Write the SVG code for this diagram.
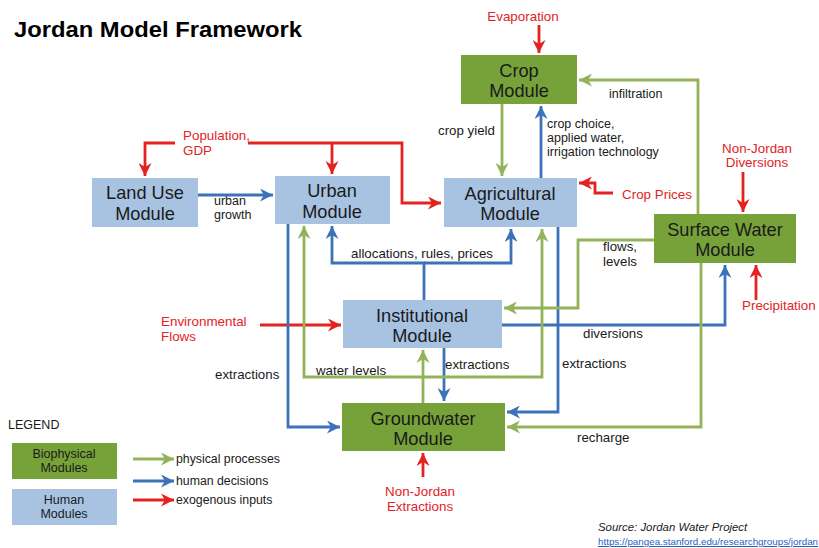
<svg xmlns="http://www.w3.org/2000/svg" width="819" height="548" viewBox="0 0 819 548">
<style>
text{font-family:"Liberation Sans",Arial,sans-serif;fill:#1a1a1a}
.title{font-size:22.5px;font-weight:bold;fill:#000}
.mod{font-size:18.2px;text-anchor:middle}
.lbl{font-size:13.3px}
.sm{font-size:12.5px}
.ex{font-size:13.4px;fill:#e3231f}
.hb{fill:#a8c3e2}
.gb{fill:#77a23a}
.r{stroke:#e3231f;stroke-width:2.8;fill:none}
.b{stroke:#3b72b9;stroke-width:2.8;fill:none}
.g{stroke:#93b35a;stroke-width:2.8;fill:none}
.leg{font-size:12.5px;text-anchor:middle}
.lt{font-size:12.3px}
</style>
<defs>
<marker id="ar" markerUnits="userSpaceOnUse" markerWidth="13" markerHeight="13" refX="10" refY="5" orient="auto" viewBox="0 0 10 10"><path d="M0,0 L10,5 L0,10 L3,5 z" fill="#e3231f"/></marker>
<marker id="ab" markerUnits="userSpaceOnUse" markerWidth="13" markerHeight="13" refX="10" refY="5" orient="auto" viewBox="0 0 10 10"><path d="M0,0 L10,5 L0,10 L3,5 z" fill="#3b72b9"/></marker>
<marker id="ag" markerUnits="userSpaceOnUse" markerWidth="13" markerHeight="13" refX="10" refY="5" orient="auto" viewBox="0 0 10 10"><path d="M0,0 L10,5 L0,10 L3,5 z" fill="#93b35a"/></marker>
</defs>
<rect width="819" height="548" fill="#fff"/>
<text class="title" x="14" y="37" textLength="288" lengthAdjust="spacingAndGlyphs">Jordan Model Framework</text>

<g id="connectors">
<!-- red exogenous -->
<path class="r" d="M175,143 H145 V176" marker-end="url(#ar)"/>
<path class="r" d="M248,143 H402 V203 H441" marker-end="url(#ar)"/>
<path class="r" d="M332,143 V174" marker-end="url(#ar)"/>
<path class="r" d="M539,25 V53" marker-end="url(#ar)"/>
<path class="r" d="M613,193 H595 V183 H579" marker-end="url(#ar)"/>
<path class="r" d="M743,172 V212" marker-end="url(#ar)"/>
<path class="r" d="M756,300 V265" marker-end="url(#ar)"/>
<path class="r" d="M260,325 H341" marker-end="url(#ar)"/>
<path class="r" d="M423,477 V453" marker-end="url(#ar)"/>
<!-- blue human decisions -->
<path class="b" d="M198,195 H273" marker-end="url(#ab)"/>
<path class="b" d="M541,178 V106" marker-end="url(#ab)"/>
<path class="b" d="M424,300 V263 H332 V226" marker-end="url(#ab)"/>
<path class="b" d="M424,263 H511 V229" marker-end="url(#ab)"/>
<path class="b" d="M288,224 V427 H340" marker-end="url(#ab)"/>
<path class="b" d="M558,227 V412 H507" marker-end="url(#ab)"/>
<path class="b" d="M444,348 V401" marker-end="url(#ab)"/>
<path class="b" d="M502,325 H725 V265" marker-end="url(#ab)"/>
<!-- green physical processes -->
<path class="g" d="M502,104 V176" marker-end="url(#ag)"/>
<path class="g" d="M698,214 V80 H579" marker-end="url(#ag)"/>
<path class="g" d="M654,240 H578 V308 H504" marker-end="url(#ag)"/>
<path class="g" d="M423,377 H304 V226" marker-end="url(#ag)"/>
<path class="g" d="M423,377 H542 V229" marker-end="url(#ag)"/>
<path class="g" d="M423,403 V350" marker-end="url(#ag)"/>
<path class="g" d="M701,263 V427 H507" marker-end="url(#ag)"/>
</g>

<g id="labels">
<text class="ex" x="183" y="140">Population,</text>
<text class="ex" x="183" y="155">GDP</text>
<text class="ex" x="523" y="21" text-anchor="middle">Evaporation</text>
<text class="ex" x="622" y="199">Crop Prices</text>
<text class="ex" x="757" y="153" text-anchor="middle">Non-Jordan</text>
<text class="ex" x="757" y="167" text-anchor="middle">Diversions</text>
<text class="ex" x="742" y="310">Precipitation</text>
<text class="ex" x="161" y="326">Environmental</text>
<text class="ex" x="161" y="341">Flows</text>
<text class="ex" x="420" y="496" text-anchor="middle">Non-Jordan</text>
<text class="ex" x="420" y="511" text-anchor="middle">Extractions</text>
<text class="sm" x="214" y="205">urban</text>
<text class="sm" x="214" y="219">growth</text>
<text class="lbl" x="438" y="135">crop yield</text>
<text class="sm" x="547" y="128">crop choice,</text>
<text class="sm" x="547" y="142">applied water,</text>
<text class="sm" x="547" y="156">irrigation technology</text>
<text class="sm" x="609" y="98">infiltration</text>
<text class="lbl" x="422" y="258" text-anchor="middle">allocations, rules, prices</text>
<text class="lbl" x="603" y="251">flows,</text>
<text class="lbl" x="603" y="266">levels</text>
<text class="lbl" x="583" y="338">diversions</text>
<text class="lbl" x="215" y="379">extractions</text>
<text class="lbl" x="316" y="375">water levels</text>
<text class="lbl" x="445" y="369">extractions</text>
<text class="lbl" x="562" y="368">extractions</text>
<text class="lbl" x="577" y="442">recharge</text>
</g>

<g id="land-use"><rect class="hb" x="92" y="178" width="106" height="49"/><text class="mod" x="145" y="199">Land Use</text><text class="mod" x="145" y="220">Module</text></g>
<g id="urban"><rect class="hb" x="275" y="176" width="115" height="48"/><text class="mod" x="332" y="197">Urban</text><text class="mod" x="332" y="218">Module</text></g>
<g id="crop"><rect class="gb" x="461" y="55" width="116" height="49"/><text class="mod" x="519" y="77">Crop</text><text class="mod" x="519" y="97">Module</text></g>
<g id="agricultural"><rect class="hb" x="444" y="178" width="133" height="49"/><text class="mod" x="510" y="200">Agricultural</text><text class="mod" x="510" y="220">Module</text></g>
<g id="surface-water"><rect class="gb" x="654" y="214" width="142" height="49"/><text class="mod" x="725" y="236">Surface Water</text><text class="mod" x="725" y="256">Module</text></g>
<g id="institutional"><rect class="hb" x="343" y="300" width="159" height="48"/><text class="mod" x="422" y="322">Institutional</text><text class="mod" x="422" y="342">Module</text></g>
<g id="groundwater"><rect class="gb" x="342" y="403" width="163" height="48"/><text class="mod" x="423" y="425">Groundwater</text><text class="mod" x="423" y="445">Module</text></g>

<g id="legend">
<text x="8" y="429" style="font-size:12.5px">LEGEND</text>
<rect class="gb" x="12" y="443" width="105" height="36"/>
<text class="leg" x="64" y="458">Biophysical</text><text class="leg" x="64" y="472">Modules</text>
<rect class="hb" x="12" y="489" width="105" height="36"/>
<text class="leg" x="64" y="504">Human</text><text class="leg" x="64" y="518">Modules</text>
<path class="g" d="M133,459 H174" marker-end="url(#ag)"/>
<path class="b" d="M133,481 H174" marker-end="url(#ab)"/>
<path class="r" d="M133,500 H174" marker-end="url(#ar)"/>
<text class="lt" x="176" y="463">physical processes</text>
<text class="lt" x="176" y="485">human decisions</text>
<text class="lt" x="176" y="504">exogenous inputs</text>
</g>

<g id="source">
<text x="598" y="531" style="font-size:11.4px;font-style:italic">Source: Jordan Water Project</text>
<text x="598" y="545" style="font-size:9.8px;fill:#1f5fbf;text-decoration:underline">https://pangea.stanford.edu/researchgroups/jordan</text>
</g>
</svg>
